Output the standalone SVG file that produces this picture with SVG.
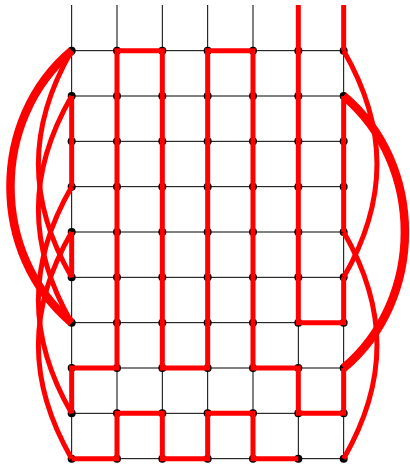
<svg xmlns="http://www.w3.org/2000/svg" width="410" height="465" viewBox="0 0 410 465">
<style>
.g{stroke:#000;stroke-width:1;fill:none}
.d{fill:#000}
.r{stroke:#ff0000;stroke-width:5;fill:none;stroke-linejoin:miter;stroke-linecap:butt}
.t{stroke:#ff0000;stroke-width:8.5;fill:none;stroke-linecap:butt}
</style>
<rect width="410" height="465" fill="#fff"/>
<g id="grid">
<path class="g" d="M71.67,5V458.67M117,5V458.67M162.33,5V458.67M207.67,5V458.67M253,5V458.67M298.33,5V458.67M343.67,5V458.67"/>
<path class="g" d="M71.67,50.67H343.67M71.67,96H343.67M71.67,141.33H343.67M71.67,186.67H343.67M71.67,232H343.67M71.67,277.33H343.67M71.67,322.67H343.67M71.67,368H343.67M71.67,413.33H343.67M71.67,458.67H343.67"/>
</g>
<g id="nodes">
<g id="n0-0"><circle class="d" cx="71.67" cy="50.67" r="4"/></g>
<g id="n1-0"><circle class="d" cx="117" cy="50.67" r="4"/></g>
<g id="n2-0"><circle class="d" cx="162.33" cy="50.67" r="4"/></g>
<g id="n3-0"><circle class="d" cx="207.67" cy="50.67" r="4"/></g>
<g id="n4-0"><circle class="d" cx="253" cy="50.67" r="4"/></g>
<g id="n5-0"><circle class="d" cx="298.33" cy="50.67" r="4"/></g>
<g id="n6-0"><circle class="d" cx="343.67" cy="50.67" r="4"/></g>
<g id="n0-1"><circle class="d" cx="71.67" cy="96" r="4"/></g>
<g id="n1-1"><circle class="d" cx="117" cy="96" r="4"/></g>
<g id="n2-1"><circle class="d" cx="162.33" cy="96" r="4"/></g>
<g id="n3-1"><circle class="d" cx="207.67" cy="96" r="4"/></g>
<g id="n4-1"><circle class="d" cx="253" cy="96" r="4"/></g>
<g id="n5-1"><circle class="d" cx="298.33" cy="96" r="4"/></g>
<g id="n6-1"><circle class="d" cx="343.67" cy="96" r="4"/></g>
<g id="n0-2"><circle class="d" cx="71.67" cy="141.33" r="4"/></g>
<g id="n1-2"><circle class="d" cx="117" cy="141.33" r="4"/></g>
<g id="n2-2"><circle class="d" cx="162.33" cy="141.33" r="4"/></g>
<g id="n3-2"><circle class="d" cx="207.67" cy="141.33" r="4"/></g>
<g id="n4-2"><circle class="d" cx="253" cy="141.33" r="4"/></g>
<g id="n5-2"><circle class="d" cx="298.33" cy="141.33" r="4"/></g>
<g id="n6-2"><circle class="d" cx="343.67" cy="141.33" r="4"/></g>
<g id="n0-3"><circle class="d" cx="71.67" cy="186.67" r="4"/></g>
<g id="n1-3"><circle class="d" cx="117" cy="186.67" r="4"/></g>
<g id="n2-3"><circle class="d" cx="162.33" cy="186.67" r="4"/></g>
<g id="n3-3"><circle class="d" cx="207.67" cy="186.67" r="4"/></g>
<g id="n4-3"><circle class="d" cx="253" cy="186.67" r="4"/></g>
<g id="n5-3"><circle class="d" cx="298.33" cy="186.67" r="4"/></g>
<g id="n6-3"><circle class="d" cx="343.67" cy="186.67" r="4"/></g>
<g id="n0-4"><circle class="d" cx="71.67" cy="232" r="4"/></g>
<g id="n1-4"><circle class="d" cx="117" cy="232" r="4"/></g>
<g id="n2-4"><circle class="d" cx="162.33" cy="232" r="4"/></g>
<g id="n3-4"><circle class="d" cx="207.67" cy="232" r="4"/></g>
<g id="n4-4"><circle class="d" cx="253" cy="232" r="4"/></g>
<g id="n5-4"><circle class="d" cx="298.33" cy="232" r="4"/></g>
<g id="n6-4"><circle class="d" cx="343.67" cy="232" r="4"/></g>
<g id="n0-5"><circle class="d" cx="71.67" cy="277.33" r="4"/></g>
<g id="n1-5"><circle class="d" cx="117" cy="277.33" r="4"/></g>
<g id="n2-5"><circle class="d" cx="162.33" cy="277.33" r="4"/></g>
<g id="n3-5"><circle class="d" cx="207.67" cy="277.33" r="4"/></g>
<g id="n4-5"><circle class="d" cx="253" cy="277.33" r="4"/></g>
<g id="n5-5"><circle class="d" cx="298.33" cy="277.33" r="4"/></g>
<g id="n6-5"><circle class="d" cx="343.67" cy="277.33" r="4"/></g>
<g id="n0-6"><circle class="d" cx="71.67" cy="322.67" r="4"/></g>
<g id="n1-6"><circle class="d" cx="117" cy="322.67" r="4"/></g>
<g id="n2-6"><circle class="d" cx="162.33" cy="322.67" r="4"/></g>
<g id="n3-6"><circle class="d" cx="207.67" cy="322.67" r="4"/></g>
<g id="n4-6"><circle class="d" cx="253" cy="322.67" r="4"/></g>
<g id="n5-6"><circle class="d" cx="298.33" cy="322.67" r="4"/></g>
<g id="n6-6"><circle class="d" cx="343.67" cy="322.67" r="4"/></g>
<g id="n0-7"><circle class="d" cx="71.67" cy="368" r="4"/></g>
<g id="n1-7"><circle class="d" cx="117" cy="368" r="4"/></g>
<g id="n2-7"><circle class="d" cx="162.33" cy="368" r="4"/></g>
<g id="n3-7"><circle class="d" cx="207.67" cy="368" r="4"/></g>
<g id="n4-7"><circle class="d" cx="253" cy="368" r="4"/></g>
<g id="n5-7"><circle class="d" cx="298.33" cy="368" r="4"/></g>
<g id="n6-7"><circle class="d" cx="343.67" cy="368" r="4"/></g>
<g id="n0-8"><circle class="d" cx="71.67" cy="413.33" r="4"/></g>
<g id="n1-8"><circle class="d" cx="117" cy="413.33" r="4"/></g>
<g id="n2-8"><circle class="d" cx="162.33" cy="413.33" r="4"/></g>
<g id="n3-8"><circle class="d" cx="207.67" cy="413.33" r="4"/></g>
<g id="n4-8"><circle class="d" cx="253" cy="413.33" r="4"/></g>
<g id="n5-8"><circle class="d" cx="298.33" cy="413.33" r="4"/></g>
<g id="n6-8"><circle class="d" cx="343.67" cy="413.33" r="4"/></g>
<g id="n0-9"><circle class="d" cx="71.67" cy="458.67" r="4"/></g>
<g id="n1-9"><circle class="d" cx="117" cy="458.67" r="4"/></g>
<g id="n2-9"><circle class="d" cx="162.33" cy="458.67" r="4"/></g>
<g id="n3-9"><circle class="d" cx="207.67" cy="458.67" r="4"/></g>
<g id="n4-9"><circle class="d" cx="253" cy="458.67" r="4"/></g>
<g id="n5-9"><circle class="d" cx="298.33" cy="458.67" r="4"/></g>
<g id="n6-9"><circle class="d" cx="343.67" cy="458.67" r="4"/></g>
</g>
<g id="connectors">
<path class="r" d="M343.67,232V96"/>
<path class="r" d="M343.67,368V413.33H298.33V368H253V50.67H207.67V368H162.33V50.67H117V368H71.67V413.33"/>
<path class="r" d="M71.67,186.67V96"/>
<path class="r" d="M71.67,277.33V232"/>
<path class="r" d="M71.67,458.67H117V413.33H162.33V458.67H207.67V413.33H253V458.67H298.33"/>
<path class="r" d="M298.33,5V322.67H343.67V277.33"/>
<path class="r" d="M343.67,50.67V5"/>
<path class="r" d="M71.67,50.67C27.27,127.57 27.27,200.43 71.67,277.33"/>
<path class="r" d="M71.67,96C27.27,172.9 27.27,245.77 71.67,322.67"/>
<path class="r" d="M71.67,186.67C27.27,263.57 27.27,336.43 71.67,413.33"/>
<path class="r" d="M71.67,232C27.27,308.9 27.27,381.77 71.67,458.67"/>
<path class="t" d="M71.67,50.67C-9.93,119.17 -9.93,254.17 71.67,322.67"/>
<path class="r" d="M343.67,50.67C388.07,127.57 388.07,200.43 343.67,277.33"/>
<path class="r" d="M343.67,232C388.07,308.9 388.07,381.77 343.67,458.67"/>
<path class="t" d="M343.67,96C425.27,164.5 425.27,299.5 343.67,368"/>
</g>
</svg>
